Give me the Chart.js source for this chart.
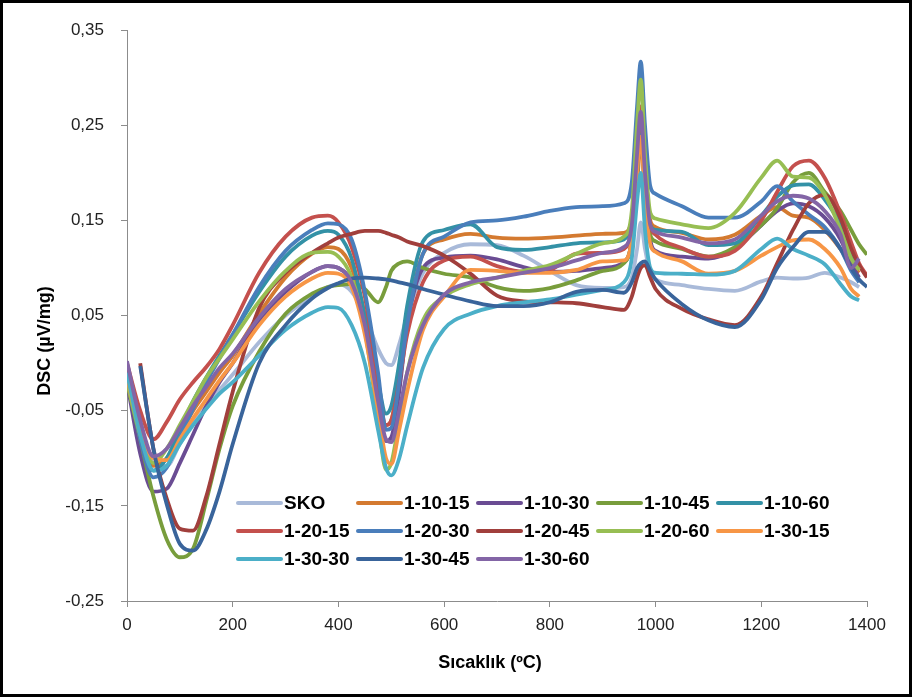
<!DOCTYPE html>
<html>
<head>
<meta charset="utf-8">
<script src="https://cdn.jsdelivr.net/npm/chart.js@4.4.1/dist/chart.umd.min.js"></script>
<style>
  html, body { margin: 0; padding: 0; background: #fff; }
  #frame { width: 912px; height: 697px; box-sizing: border-box; border: 3px solid #000; background: #fff; }
  canvas { display: block; }
</style>
</head>
<body>
<div id="frame"><canvas id="dscChart" width="906" height="691"></canvas></div>
<script>
// temperature grid (°C) shared by every curve
const temps = [0, 25, 50, 75, 100, 125, 150, 175, 200, 250, 300, 350, 380, 400, 425, 450, 475, 490, 500, 515,
  530, 560, 600, 650, 700, 750, 800, 850, 900, 940, 955, 965, 972, 980, 990, 1000, 1050, 1100, 1150, 1200,
  1230, 1260, 1290, 1320, 1350, 1370, 1385, 1400];

// DSC values (µV/mg), null = no reading
const sko = [-0.01, -0.07, -0.105, -0.108, -0.085, -0.063, -0.045, -0.028, -0.012, 0.022, 0.05, 0.07, 0.08, 0.083, 0.075, 0.05, 0.015, 0.0, -0.002, 0.02,
  0.05, 0.095, 0.116, 0.125, 0.124, 0.113, 0.097, 0.082, 0.079, 0.08, 0.09, 0.12, 0.148, 0.12, 0.095, 0.088, 0.082, 0.078, 0.076, 0.086,
  0.09, 0.089, 0.09, 0.095, 0.09, 0.085, 0.08, null];
const s1_10_15 = [-0.015, -0.075, -0.108, -0.1, -0.075, -0.05, -0.03, -0.01, 0.008, 0.052, 0.09, 0.115, 0.122, 0.12, 0.1, 0.05, -0.03, -0.065, -0.06, -0.01,
  0.045, 0.115, 0.13, 0.136, 0.132, 0.131, 0.132, 0.134, 0.136, 0.137, 0.15, 0.19, 0.23, 0.19, 0.15, 0.143, 0.137, 0.13, 0.135, 0.155,
  0.164, 0.155, 0.153, 0.14, 0.12, 0.105, 0.095, null];
const s1_10_30 = [-0.02, -0.095, -0.135, -0.132, -0.105, -0.075, -0.045, -0.02, 0.0, 0.045, 0.075, 0.096, 0.102, 0.1, 0.085, 0.04, -0.04, -0.082, -0.078, -0.03,
  0.04, 0.1, 0.111, 0.113, 0.109, 0.101, 0.096, 0.097, 0.1, 0.106, 0.13, 0.2, 0.25, 0.19, 0.13, 0.118, 0.112, 0.11, 0.12, 0.145,
  0.16, 0.168, 0.165, 0.153, 0.13, 0.105, 0.09, null];
const s1_10_45 = [-0.02, -0.08, -0.14, -0.185, -0.204, -0.195, -0.145, -0.09, -0.045, 0.012, 0.052, 0.073, 0.08, 0.082, 0.083, 0.078, 0.064, 0.08, 0.097, 0.105,
  0.107, 0.1, 0.094, 0.09, 0.08, 0.076, 0.079, 0.087, 0.097, 0.105, 0.13, 0.2, 0.245, 0.18, 0.135, 0.128, 0.12, 0.112, 0.122, 0.145,
  0.163, 0.19, 0.2, 0.18, 0.16, 0.14, 0.125, 0.114];
const s1_10_60 = [-0.005, -0.07, -0.113, -0.1, -0.07, -0.04, -0.015, 0.008, 0.03, 0.075, 0.112, 0.134, 0.139, 0.135, 0.11, 0.05, -0.02, -0.053, -0.045, 0.0,
  0.06, 0.128, 0.14, 0.146, 0.122, 0.119, 0.122, 0.126, 0.127, 0.13, 0.15, 0.2, 0.24, 0.18, 0.145, 0.14, 0.138, 0.124, 0.126, 0.155,
  0.175, 0.187, 0.188, 0.172, 0.145, 0.115, 0.1, null];
const s1_20_15 = [0.0, -0.05, -0.08, -0.062, -0.038, -0.02, -0.004, 0.015, 0.04, 0.095, 0.133, 0.153, 0.155, 0.148, 0.122, 0.07, -0.02, -0.065, -0.06, -0.02,
  0.03, 0.085, 0.108, 0.112, 0.102, 0.096, 0.098, 0.115, 0.116, 0.12, 0.145, 0.22, 0.27, 0.2, 0.145, 0.135, 0.121, 0.112, 0.118, 0.15,
  0.18, 0.207, 0.213, 0.195, 0.157, 0.127, 0.105, 0.092];
const s1_20_30 = [-0.01, -0.08, -0.12, -0.11, -0.078, -0.048, -0.02, 0.005, 0.03, 0.08, 0.118, 0.14, 0.147, 0.146, 0.13, 0.075, -0.01, -0.07, -0.068, -0.02,
  0.04, 0.115, 0.133, 0.148, 0.15, 0.154, 0.16, 0.164, 0.165, 0.168, 0.19, 0.27, 0.317, 0.25, 0.186, 0.178, 0.165, 0.153, 0.153, 0.17,
  0.186, 0.17, 0.156, 0.143, 0.12, 0.097, 0.085, null];
const s1_20_45 = [null, 0.0, -0.09, -0.142, -0.174, -0.176, -0.14, -0.085, -0.03, 0.058, 0.095, 0.116, 0.126, 0.132, 0.136, 0.139, 0.139, 0.137, 0.135, 0.132,
  0.128, 0.123, 0.113, 0.094, 0.071, 0.065, 0.064, 0.063, 0.059, 0.056, 0.07, 0.09, 0.1, 0.103, 0.09, 0.078, 0.057, 0.046, 0.04, 0.07,
  0.105, 0.14, 0.168, 0.177, 0.152, 0.12, 0.103, 0.09];
const s1_20_60 = [-0.02, -0.075, -0.105, -0.09, -0.065, -0.04, -0.015, 0.005, 0.025, 0.065, 0.097, 0.116, 0.117, 0.112, 0.09, 0.035, -0.06, -0.112, -0.105, -0.06,
  -0.01, 0.045, 0.07, 0.083, 0.09, 0.097, 0.103, 0.115, 0.126, 0.133, 0.16, 0.25, 0.298, 0.22, 0.158, 0.152, 0.146, 0.142, 0.158, 0.195,
  0.213, 0.196, 0.195, 0.177, 0.14, 0.11, 0.098, null];
const s1_30_15 = [-0.015, -0.07, -0.1, -0.102, -0.08, -0.058, -0.038, -0.018, 0.0, 0.04, 0.07, 0.089, 0.095, 0.094, 0.08, 0.03, -0.05, -0.1, -0.106, -0.07,
  -0.03, 0.035, 0.07, 0.098, 0.097, 0.095, 0.095, 0.098, 0.107, 0.108, 0.13, 0.2, 0.238, 0.17, 0.125, 0.117, 0.107, 0.094, 0.097, 0.113,
  0.122, 0.129, 0.13, 0.12, 0.1, 0.078, 0.07, null];
const s1_30_30 = [-0.01, -0.075, -0.113, -0.108, -0.085, -0.065, -0.048, -0.032, -0.02, 0.008, 0.035, 0.053, 0.059, 0.058, 0.04, 0.0, -0.07, -0.11, -0.118, -0.1,
  -0.066, -0.005, 0.036, 0.052, 0.06, 0.064, 0.067, 0.072, 0.077, 0.085, 0.11, 0.17, 0.2, 0.14, 0.1, 0.095, 0.094, 0.093, 0.097, 0.12,
  0.131, 0.12, 0.113, 0.104, 0.083, 0.07, 0.066, null];
const s1_30_45 = [null, -0.003, -0.09, -0.148, -0.19, -0.197, -0.175, -0.135, -0.085, 0.0, 0.04, 0.068, 0.079, 0.084, 0.089, 0.09, 0.089, 0.088, 0.087, 0.085,
  0.083, 0.078, 0.072, 0.065, 0.06, 0.06, 0.064, 0.075, 0.077, 0.074, 0.085, 0.1, 0.105, 0.107, 0.097, 0.088, 0.062, 0.045, 0.038, 0.067,
  0.1, 0.122, 0.138, 0.138, 0.12, 0.1, 0.088, 0.08];
const s1_30_60 = [0.002, -0.06, -0.098, -0.09, -0.068, -0.045, -0.025, -0.005, 0.01, 0.048, 0.078, 0.096, 0.102, 0.1, 0.085, 0.04, -0.04, -0.08, -0.083, -0.05,
  -0.01, 0.04, 0.072, 0.085, 0.09, 0.095, 0.1, 0.108, 0.116, 0.122, 0.145, 0.22, 0.264, 0.2, 0.145, 0.138, 0.132, 0.126, 0.13, 0.155,
  0.17, 0.176, 0.173, 0.16, 0.135, 0.1, 0.11, null];

const seriesNames = ['SKO', '1-10-15', '1-10-30', '1-10-45', '1-10-60', '1-20-15', '1-20-30',
  '1-20-45', '1-20-60', '1-30-15', '1-30-30', '1-30-45', '1-30-60'];
const seriesValues = [sko, s1_10_15, s1_10_30, s1_10_45, s1_10_60, s1_20_15, s1_20_30,
  s1_20_45, s1_20_60, s1_30_15, s1_30_30, s1_30_45, s1_30_60];
const seriesColors = ['#A9BAD9', '#D47A30', '#6A4C93', '#789D3C', '#3391A6', '#C4504D', '#4A7EBB',
  '#A13F3C', '#97BE53', '#F79646', '#4BAFC8', '#39649B', '#8365A6'];

const xTickValues = [0, 200, 400, 600, 800, 1000, 1200, 1400];
const yTickValues = [-0.25, -0.15, -0.05, 0.05, 0.15, 0.25, 0.35];
const xTitle = 'Sıcaklık (ºC)';
const yTitle = 'DSC (µV/mg)';

const FONT = '"Liberation Sans", Arial, sans-serif';

function toPoints(vals) {
  const pts = [];
  vals.forEach((v, i) => {
    if (v !== null) pts.push({ x: temps[i], y: v });
  });
  return pts;
}

const datasets = seriesNames.map((name, i) => ({
  label: name,
  data: toPoints(seriesValues[i]),
  borderColor: seriesColors[i],
  backgroundColor: seriesColors[i],
  borderWidth: 3.8,
  pointRadius: 0,
  fill: false,
  cubicInterpolationMode: 'monotone',
  order: seriesNames.length - i   // later series drawn on top, like the original
}));

// legend inside the plot (5 columns x 3 rows) and the two axis titles
const decorations = {
  id: 'decorations',
  afterDatasetsDraw(chart) {
    const ctx = chart.ctx;
    ctx.save();
    ctx.font = 'bold 19px ' + FONT;
    ctx.textBaseline = 'middle';
    ctx.textAlign = 'left';
    chart.data.datasets.forEach((ds, i) => {
      const col = i % 5;
      const row = Math.floor(i / 5);
      const x = 235 + col * 120;
      const y = 500 + row * 28;
      ctx.strokeStyle = ds.borderColor;
      ctx.lineWidth = 4;
      ctx.lineCap = 'round';
      ctx.beginPath();
      ctx.moveTo(x, y);
      ctx.lineTo(x + 43, y);
      ctx.stroke();
      ctx.fillStyle = '#000';
      ctx.fillText(ds.label, x + 46, y + 1);
    });

    ctx.font = 'bold 18px ' + FONT;
    ctx.textAlign = 'center';
    ctx.fillText(xTitle, 487, 660);
    ctx.translate(42, 338);
    ctx.rotate(-Math.PI / 2);
    ctx.fillText(yTitle, 0, 0);
    ctx.restore();
  }
};

const ctx = document.getElementById('dscChart').getContext('2d');
new Chart(ctx, {
  type: 'line',
  data: { datasets: datasets },
  plugins: [decorations],
  options: {
    responsive: false,
    animation: false,
    layout: { padding: { top: 19, right: 42, bottom: 0, left: 0 } },
    plugins: {
      legend: { display: false },
      tooltip: { enabled: false }
    },
    scales: {
      x: {
        type: 'linear',
        min: 0,
        max: 1400,
        afterBuildTicks: s => { s.ticks = xTickValues.map(v => ({ value: v })); },
        afterFit: s => { s.height = 93; },
        grid: { drawOnChartArea: false, drawTicks: true, tickLength: 6, color: '#8c8c8c' },
        border: { color: '#8c8c8c', width: 1 },
        ticks: {
          font: { family: FONT, size: 17 },
          color: '#222',
          padding: 8,
          maxRotation: 0,
          callback: v => String(v)
        }
      },
      y: {
        type: 'linear',
        min: -0.25,
        max: 0.35,
        afterBuildTicks: s => { s.ticks = yTickValues.map(v => ({ value: v })); },
        afterFit: s => { s.width = 124; },
        grid: { drawOnChartArea: false, drawTicks: true, tickLength: 6, color: '#8c8c8c' },
        border: { color: '#8c8c8c', width: 1 },
        ticks: {
          font: { family: FONT, size: 17 },
          color: '#222',
          padding: 17,
          callback: v => v.toFixed(2).replace('.', ',')
        }
      }
    }
  }
});
</script>
</body>
</html>
